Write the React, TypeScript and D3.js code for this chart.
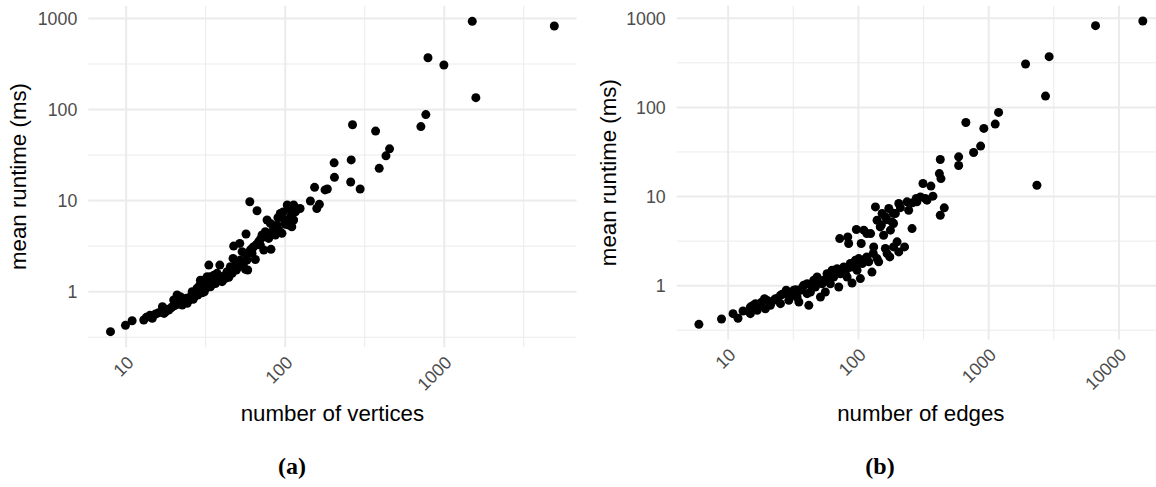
import * as d3 from "d3";

// panel (a): number of vertices vs mean runtime (ms)
const vertexCounts = [
  1500, 4920, 790, 995, 1580, 766, 265, 370, 713, 453, 430, 203, 260, 390, 204, 258, 296, 153, 178, 184, 144, 164, 158, 124,
  7.97, 9.9, 10.9, 12.9, 13.4, 14.1, 15.3, 16.0, 16.9, 17.7, 18.5, 19.5, 20.4, 20.9, 21.4, 22.2, 23.0, 23.9, 24.8, 25.6,
  26.6, 27.3, 28.2, 29.3, 30.0, 30.8, 31.5, 32.3, 33.1, 33.6, 34.7, 35.6, 36.4, 38.8, 38.2, 40.1, 42.1, 44.2, 46.4, 47.0,
  49.3, 51.0, 53.6, 56.2, 58.1, 47.4, 51.8, 53.6, 56.7, 59.9, 66.5, 61.8, 64.9, 63.4, 68.1, 71.5, 75.0, 73.3, 81.4, 76.9,
  80.7, 84.7, 88.8, 93.1, 95.4, 98.8, 103, 113, 108, 110, 116,
  21.9, 26.0, 27.9, 29.0, 32.3, 30.5, 33.9, 37.3, 41.1, 43.1, 45.2, 48.6, 52.2, 57.5, 60.4, 69.8, 78.7, 86.7, 91.0, 105,
  113, 108, 17.3, 19.0, 22.5, 24.2, 26.4, 14.6, 19.9, 33.9, 29.3, 35.9,
  18, 20, 21, 23.5, 25, 27, 28.5, 30, 31, 32, 34, 36, 39, 41, 43, 45, 48, 50, 55, 57, 62, 66, 70, 74, 83, 90, 97, 100,
];
const vertexRuntimes = [
  930, 826, 370, 308, 135, 88, 68, 58, 65, 37, 31, 26, 28, 22.6, 18, 16, 13.4, 14, 13.1, 13.4, 9.9, 9.1, 8.2, 8.2,
  0.364, 0.427, 0.48, 0.489, 0.523, 0.55, 0.569, 0.588, 0.684, 0.603, 0.629, 0.684, 0.714, 0.919, 0.745, 0.797, 0.776, 0.845, 0.81, 0.896,
  0.867, 0.959, 0.919, 1.04, 0.975, 1.12, 1.23, 1.46, 1.96, 1.18, 1.34, 1.52, 1.23, 1.96, 1.4, 1.29, 1.4, 1.44, 1.59, 2.32,
  1.73, 1.88, 1.96, 1.76, 1.73, 3.17, 3.39, 2.75, 4.3, 9.72, 7.75, 2.64, 2.26, 3.12, 3.54, 4.19, 4.56, 2.87, 2.92, 6.12,
  5.62, 4.96, 5.4, 7.24, 4.37, 6.12, 8.94, 8.94, 6.65, 5.17, 7.55,
  0.881, 1.0, 1.09, 1.18, 1.29, 1.34, 1.46, 1.59, 1.49, 1.66, 1.88, 1.96, 2.23, 2.23, 2.87, 3.25, 3.85, 4.19, 4.75, 5.4,
  6.12, 7.88, 0.578, 0.656, 0.714, 0.745, 0.824, 0.51, 0.81, 1.13, 1.34, 1.26,
  0.64, 0.7, 0.73, 0.8, 0.85, 0.9, 0.95, 1.05, 1.0, 1.1, 1.2, 1.3, 1.35, 1.45, 1.55, 1.6, 1.8, 2.0, 2.1, 2.6, 3.0, 3.3, 3.8, 4.0, 4.5, 6.5, 7.5, 5.5,
];

// panel (b): number of edges vs mean runtime (ms)
const edgeCounts = [
  15240, 6610, 2910, 1918, 2730, 2344, 1191, 1122, 918, 668, 867, 766, 588, 588,
  5.96, 8.89, 10.9, 11.9, 14.8, 14.8, 16.2, 19.0, 19.3, 21.1, 23.1, 25.2, 25.2, 27.9, 29.2, 31.9, 34.9, 35.9, 38.0, 41.6,
  42.8, 45.4, 46.7, 51.1, 52.6, 55.7, 57.4, 62.8, 64.6, 70.6, 72.6, 77.1, 81.8, 86.7, 89.3, 94.8, 97.6, 103.5, 107, 116,
  127, 131, 143, 161, 174, 198, 204, 226, 258, 71.8, 82.8, 84.1, 96.4, 105, 110, 124, 135, 139, 147, 161, 171, 181, 192,
  204, 243, 236, 278, 313, 336, 373, 360, 425, 418, 430, 456, 425,
  31.9, 40.4, 48.2, 57.4, 68.6, 79.4, 92.0, 100.5, 120, 139, 22.4, 16.7, 17.7, 28.3, 33.8, 40.4, 60.9, 166, 186, 156,
  176, 116, 152, 186, 281, 326, 299,
  13, 15.5, 18, 20, 24, 26, 30, 33, 37, 44, 50, 54, 60, 66, 75, 85, 95, 110, 130, 150, 165, 185, 210, 260,
];
const edgeRuntimes = [
  933, 827, 371, 307, 134, 13.4, 87.9, 65, 58.1, 67.8, 36.8, 31.2, 27.9, 22.3,
  0.368, 0.422, 0.485, 0.43, 0.485, 0.575, 0.628, 0.714, 0.551, 0.601, 0.714, 0.628, 0.778, 0.887, 0.684, 0.778, 0.655, 0.887, 1.01, 0.601,
  0.849, 1.15, 0.966, 0.746, 1.05, 0.849, 1.15, 1.49, 1.25, 0.966, 1.36, 1.62, 1.25, 1.77, 1.07, 1.93, 1.49, 1.2, 1.77, 2.1,
  1.42, 2.72, 1.85, 2.61, 2.1, 3.1, 2.39, 2.72, 4.37, 3.37, 3.52, 2.97, 4.26, 2.97, 4.19, 3.84, 7.65, 5.42, 4.56, 5.91, 7.33, 5.19, 6.44,
  8.34, 7.02, 8.71, 9.5, 14.0, 9.1, 10.1, 13.1, 26, 18.1, 15.9, 7.46, 6.17,
  0.887, 1.05, 1.25, 1.36, 1.55, 1.36, 1.62, 2.01, 1.85, 2.01, 0.684, 0.528, 0.601, 0.813, 0.746, 0.813, 1.05, 2.29, 2.72, 3.68,
  4.19, 3.84, 6.44, 4.98, 8.71, 9.5, 9.9,
  0.52, 0.6, 0.65, 0.68, 0.72, 0.8, 0.82, 0.9, 0.95, 1.0, 1.1, 1.15, 1.25, 1.4, 1.5, 1.6, 1.7, 1.95, 2.3, 4.8, 5.5, 6.5, 7.5, 8.5,
];

const runtimeTicks = [1, 10, 100, 1000];
const vertexTicks = [10, 100, 1000];
const edgeTicks = [10, 100, 1000, 10000];

const W = 1156;
const H = 487;
const GRID = "#ebebeb";
const SANS = "'Liberation Sans', Arial, sans-serif";

// log extent padded by 5% on each side, like ggplot's default expansion
function logDomain(vals: number[]): [number, number] {
  const [a, b] = d3.extent(vals.map(Math.log10)) as [number, number];
  const pad = (b - a) * 0.05;
  return [10 ** (a - pad), 10 ** (b + pad)];
}

// majors at the powers of ten, minors half way between them in log space
function gridBreaks(domain: [number, number]) {
  const lo = Math.floor(Math.log10(domain[0])) - 1;
  const hi = Math.ceil(Math.log10(domain[1])) + 1;
  const major: number[] = [];
  const minor: number[] = [];
  for (let k = lo; k <= hi; k++) {
    major.push(10 ** k);
    minor.push(10 ** (k + 0.5));
  }
  const inside = (v: number) => v >= domain[0] && v <= domain[1];
  return { major: major.filter(inside), minor: minor.filter(inside) };
}

type PanelProps = {
  xs: number[];
  ys: number[];
  xTicks: number[];
  left: number;
  right: number;
  top: number;
  bottom: number;
  xTitle: string;
  yTitleX: number;
  caption: string;
  captionX: number;
};

function Panel({ xs, ys, xTicks, left, right, top, bottom, xTitle, yTitleX, caption, captionX }: PanelProps) {
  const xDom = logDomain(xs);
  const yDom = logDomain(ys);
  const x = d3.scaleLog().domain(xDom).range([left, right]);
  const y = d3.scaleLog().domain(yDom).range([bottom, top]);
  const gx = gridBreaks(xDom);
  const gy = gridBreaks(yDom);
  const midY = (top + bottom) / 2;
  const midX = (left + right) / 2;

  return (
    <g>
      {gx.minor.map((v) => (
        <line key={"xm" + v} x1={x(v)} x2={x(v)} y1={top} y2={bottom} stroke={GRID} strokeWidth={1} />
      ))}
      {gy.minor.map((v) => (
        <line key={"ym" + v} x1={left} x2={right} y1={y(v)} y2={y(v)} stroke={GRID} strokeWidth={1} />
      ))}
      {gx.major.map((v) => (
        <line key={"xM" + v} x1={x(v)} x2={x(v)} y1={top} y2={bottom} stroke={GRID} strokeWidth={2} />
      ))}
      {gy.major.map((v) => (
        <line key={"yM" + v} x1={left} x2={right} y1={y(v)} y2={y(v)} stroke={GRID} strokeWidth={2} />
      ))}

      {xs.map((v, i) => (
        <circle key={i} cx={x(v)} cy={y(ys[i])} r={4.5} fill="#000" />
      ))}

      {runtimeTicks.map((v) => (
        <text key={"yt" + v} x={left - 11} y={y(v)} dy="0.35em" textAnchor="end"
          fontFamily={SANS} fontSize={17.8} fill="#4d4d4d">{v}</text>
      ))}
      {xTicks.map((v) => (
        <text key={"xt" + v} textAnchor="end" fontFamily={SANS} fontSize={17.8} fill="#4d4d4d"
          transform={`translate(${x(v) + 8.5},${bottom + 16.5}) rotate(-45)`}>{v}</text>
      ))}

      <text x={midX} y={421} textAnchor="middle" fontFamily={SANS} fontSize={22.3} fill="#000">{xTitle}</text>
      <text transform={`translate(${yTitleX},${midY}) rotate(-90)`} textAnchor="middle"
        fontFamily={SANS} fontSize={22.3} fill="#000">mean runtime (ms)</text>
      <text x={captionX} y={474} textAnchor="middle" fontFamily="'Liberation Serif', 'DejaVu Serif', serif"
        fontWeight={700} fontSize={24} fill="#000">{caption}</text>
    </g>
  );
}

export default function App() {
  return (
    <div style={{ position: "fixed", left: 0, top: 0 }}>
      <svg width={W} height={H} style={{ display: "block", background: "#fff" }}>
        <Panel xs={vertexCounts} ys={vertexRuntimes} xTicks={vertexTicks}
          left={88.3} right={576.5} top={5.8} bottom={347.2}
          xTitle="number of vertices" yTitleX={26} caption="(a)" captionX={292} />
        <Panel xs={edgeCounts} ys={edgeRuntimes} xTicks={edgeTicks}
          left={676.7} right={1165} top={5.8} bottom={339.5}
          xTitle="number of edges" yTitleX={616} caption="(b)" captionX={880} />
      </svg>
    </div>
  );
}
